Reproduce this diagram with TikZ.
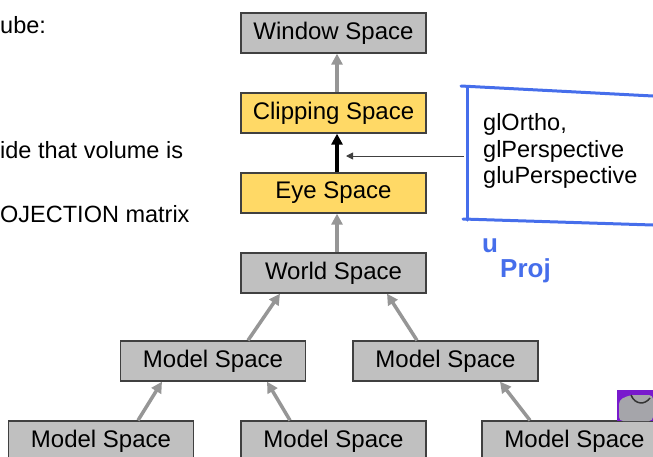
\documentclass[tikz,border=0pt]{standalone}
\usepackage{fontspec}
\setmainfont{Liberation Sans}
\usetikzlibrary{arrows.meta,calc}
\definecolor{boxgray}{RGB}{192,192,192}
\definecolor{boxyellow}{RGB}{255,217,102}
\definecolor{boxline}{RGB}{64,64,64}
\definecolor{arrowgray}{RGB}{150,150,150}
\definecolor{penblue}{RGB}{70,110,235}
\definecolor{iconpurple}{RGB}{120,25,205}
\definecolor{icongray}{RGB}{165,165,170}
\begin{document}
\begin{tikzpicture}[x=1pt,y=-1pt,
  box/.style={draw=boxline, line width=1.3pt, minimum width=185pt, minimum height=40pt, inner sep=0pt, font=\fontsize{24}{27}\selectfont},
  gbox/.style={box, fill=boxgray},
  ybox/.style={box, fill=boxyellow},
  garrow/.style={draw=arrowgray, line width=3.5pt, -{Triangle[length=11pt,width=11pt]}},
  barrow/.style={draw=black, line width=3.5pt, -{Triangle[length=11pt,width=11pt]}},
  thinarrow/.style={draw=black!75, line width=0.9pt, -{Triangle[length=7pt,width=7pt]}},
  plaintext/.style={inner sep=0pt, anchor=base west, font=\fontsize{23.5}{26}\selectfont},
  penline/.style={draw=penblue, line width=3pt, line cap=round},
  pentext/.style={text=penblue, inner sep=0pt, font=\bfseries\fontsize{26}{28}\selectfont}
]
\useasboundingbox (0,0) rectangle (653,456);
\clip (0,0) rectangle (653,456);

% left text fragments
\node[plaintext] (t1) at (0,33) {ube:};
\node[plaintext] (t2) at (0,158) {ide that volume is};
\node[plaintext] (t3) at (0,222) {OJECTION matrix};

% boxes
\node[gbox] (win) at (333.5,33) {Window Space};
\node[ybox] (clip) at (333.5,113) {Clipping Space};
\node[ybox] (eye) at (333.5,193) {Eye Space};
\node[gbox] (world) at (333.5,273) {World Space};
\node[gbox] (mL) at (213,361) {Model Space};
\node[gbox] (mR) at (445.5,361) {Model Space};
\node[gbox] (bL) at (101,441) {Model Space};
\node[gbox] (bM) at (333.5,441) {Model Space};
\node[gbox] (bR) at (574.5,441) {Model Space};

% connectors
\draw[garrow] ([xshift=3.5pt]clip.north) -- ([xshift=3.5pt]win.south);
\draw[barrow] ([xshift=3.5pt]eye.north) -- ([xshift=3.5pt]clip.south);
\draw[garrow] ([xshift=3.5pt]world.north) -- ([xshift=3.5pt]eye.south);
\draw[garrow] ([xshift=35pt]mL.north) -- ([xshift=-53.5pt]world.south);
\draw[garrow] ([xshift=-28.5pt]mR.north) -- ([xshift=53.5pt]world.south);
\draw[garrow] ([xshift=37pt]bL.north) -- ([xshift=-51pt]mL.south);
\draw[garrow] ([xshift=-43.5pt]bM.north) -- ([xshift=54pt]mL.south);
\draw[garrow] ([xshift=-44.5pt]bR.north) -- ([xshift=54.5pt]mR.south);

% hand-drawn blue box with functions
\draw[penline] (653,96) -- (461,86);
\draw[penline] (467,88) -- (467,220);
\draw[penline] (463,219) -- (653,225);
\node[plaintext] (f1) at (483,130) {glOrtho,};
\node[plaintext] (f2) at (483,157) {glPerspective};
\node[plaintext] (f3) at (483,183) {gluPerspective};
\coordinate (boxleft) at (464,156);
\coordinate (arrowtip) at (346,156);
\draw[thinarrow] (boxleft) -- (arrowtip);

% handwritten note
\node[pentext, anchor=base west] (h1) at (482,252) {u};
\node[pentext, anchor=base west] (h2) at (500,277) {Proj};

% partial purple icon
\fill[iconpurple] (617,390) rectangle (653,421);
\fill[icongray, rounded corners=4pt] (619,400) -- (630,395) -- (653,395) -- (653,421) -- (619,421) -- cycle;
\draw[black!80, line width=1.5pt] (631,395) .. controls (635,405) and (645,405) .. (650,398);
\end{tikzpicture}
\end{document}
